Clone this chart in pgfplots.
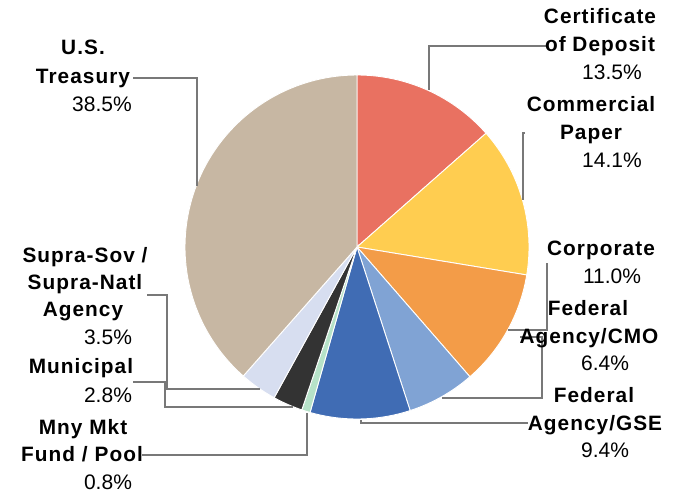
\documentclass[border=0pt]{standalone}
\usepackage{pgfplots}
\pgfplotsset{compat=1.18}
\usepackage{fontspec}
\setmainfont{Liberation Sans}
\newfontfamily\lblfont[LetterSpace=5]{Liberation Sans}

\definecolor{cd}{RGB}{233,113,97}
\definecolor{cp}{RGB}{255,205,80}
\definecolor{corp}{RGB}{243,156,72}
\definecolor{cmo}{RGB}{128,163,212}
\definecolor{gse}{RGB}{64,108,180}
\definecolor{mmf}{RGB}{182,226,200}
\definecolor{muni}{RGB}{51,51,51}
\definecolor{supra}{RGB}{215,222,240}
\definecolor{ust}{RGB}{199,183,163}
\definecolor{leader}{RGB}{120,120,120}

% percent / colour, clockwise from 12 o'clock
\def\slices{13.5/cd, 14.1/cp, 11.0/corp, 6.4/cmo, 9.4/gse, 0.8/mmf, 2.8/muni, 3.5/supra, 38.5/ust}

\begin{document}
\begin{tikzpicture}[
  nm/.style={anchor=base, font=\fontsize{20.8}{24}\lblfont\bfseries},
  pc/.style={anchor=base, font=\fontsize{21}{24}\selectfont}]
\begin{axis}[
  scale only axis, width=682pt, height=494pt,
  xmin=0, xmax=682, ymin=0, ymax=494, y dir=reverse,
  hide axis, clip=false]

\addplot[draw=none] coordinates {(0,0) (682,494)};

\xdef\cum{0}
\foreach \v/\c in \slices {
  \pgfmathsetmacro\a{\cum*3.6}
  \pgfmathsetmacro\b{(\cum+\v)*3.6}
  \pgfmathsetmacro\n{\cum+\v}
  \xdef\cum{\n}
  \edef\tmp{\noexpand\addplot[fill=\c, draw=white, line width=0.9pt, domain=\a:\b, samples=80]
    ({357+172*sin(x)},{247-172*cos(x)}) -- (axis cs:357,247) -- cycle;}
  \tmp
}

% leader lines
\addplot[leader, line width=1.2pt, no marks] coordinates {(133,78) (197,78) (197,186)};
\addplot[leader, line width=1.2pt, no marks] coordinates {(547,46) (429,46) (429,90)};
\addplot[leader, line width=1.2pt, no marks] coordinates {(525,133) (523,133) (523,200)};
\addplot[leader, line width=1.2pt, no marks] coordinates {(547,263) (547,330) (508,330)};
\addplot[leader, line width=1.2pt, no marks] coordinates {(520,337) (542,337) (542,398) (442,398)};
\addplot[leader, line width=1.2pt, no marks] coordinates {(528,423) (361,423) (361,420)};
\addplot[leader, line width=1.2pt, no marks] coordinates {(147,295) (167,295) (167,389) (260,389)};
\addplot[leader, line width=1.2pt, no marks] coordinates {(133,382) (165,382) (165,407) (293,407)};
\addplot[leader, line width=1.2pt, no marks] coordinates {(142,455) (307,455) (307,413)};

% labels
\node[nm] at (axis cs:83,55) {U.S.};
\node[nm] at (axis cs:83,84) {Treasury};
\node[pc] at (axis cs:102,112) {38.5\%};

\node[nm] at (axis cs:600,24) {Certificate};
\node[nm] at (axis cs:600,52) {of Deposit};
\node[pc] at (axis cs:612,80) {13.5\%};

\node[nm] at (axis cs:591,112) {Commercial};
\node[nm] at (axis cs:591,140) {Paper};
\node[pc] at (axis cs:612,168) {14.1\%};

\node[nm] at (axis cs:601,255) {Corporate};
\node[pc] at (axis cs:612,283) {11.0\%};

\node[nm] at (axis cs:588,315) {Federal};
\node[nm] at (axis cs:589,343) {Agency/CMO};
\node[pc] at (axis cs:605,370) {6.4\%};

\node[nm] at (axis cs:594,402) {Federal};
\node[nm] at (axis cs:595,430) {Agency/GSE};
\node[pc] at (axis cs:605,457) {9.4\%};

\node[nm] at (axis cs:85,262) {Supra-Sov /};
\node[nm] at (axis cs:85,289) {Supra-Natl};
\node[nm] at (axis cs:83,316) {Agency};
\node[pc] at (axis cs:108,344) {3.5\%};

\node[nm] at (axis cs:81,373) {Municipal};
\node[pc] at (axis cs:108,402) {2.8\%};

\node[nm] at (axis cs:83,434) {Mny Mkt};
\node[nm] at (axis cs:82,461) {Fund / Pool};
\node[pc] at (axis cs:108,489) {0.8\%};
\end{axis}
\end{tikzpicture}
\end{document}
